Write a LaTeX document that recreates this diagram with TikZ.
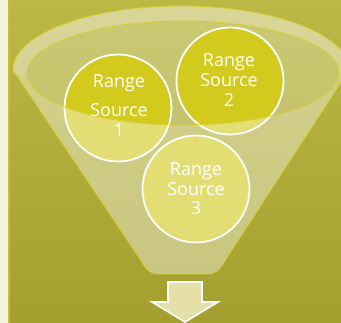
\documentclass[tikz,border=0pt]{standalone}
\usepackage{fontspec}
\newfontfamily\lab{Open Sans}
\definecolor{bgtop}{HTML}{BCB846}
\definecolor{bgbot}{HTML}{A4A030}
\definecolor{strip}{HTML}{F4F2DA}
\definecolor{stripline}{HTML}{C6BE2A}
\definecolor{cfill}{HTML}{D3CA1E}
\definecolor{edge}{HTML}{D6CE2E}
\definecolor{arrowfill}{HTML}{E4E0A8}
\tikzset{
  src/.style={circle, draw=white, line width=1.8pt, fill=cfill, minimum size=107pt, inner sep=0pt},
  lbl/.style={text=white, font=\lab\fontsize{18}{21}\selectfont, anchor=base, inner sep=0pt},
  rimline/.style={draw=edge, line width=0.8pt}
}
\begin{document}
\begin{tikzpicture}[x=1pt,y=-1pt]
\useasboundingbox (0,0) rectangle (341,323);
\clip (0,0) rectangle (341,323);
% background
\shade[top color=bgtop, bottom color=bgbot] (0,0) rectangle (341,323);
\fill[strip] (0,0) rectangle (7.5,323);
\fill[stripline] (7.5,0) rectangle (10,323);
% inner ellipse interior
\fill[white, opacity=0.25] (183,73) ellipse[x radius=156, y radius=52];
% circles
\node[src] (c1) at (118,108) {};
\node[src] (c2) at (230,81) {};
\node[src] (c3) at (196,189) {};
% funnel overlay (outside inner ellipse)
\fill[white, opacity=0.38, even odd rule]
  (13,70) arc[start angle=180, end angle=360, x radius=168, y radius=64]
  -- (226,259) .. controls (221,268) and (217,274) .. (207,274)
  -- (159,274) .. controls (149,274) and (145,268) .. (140,259) -- cycle
  (183,73) ellipse[x radius=156, y radius=52];
% lighter rim band
\begin{scope}
  \clip (0,0) rectangle (341,76);
  \fill[white, opacity=0.1, even odd rule]
    (181,70) ellipse[x radius=168, y radius=64]
    (183,73) ellipse[x radius=156, y radius=52];
\end{scope}
% funnel edges
\draw[rimline]
  (13,70) arc[start angle=180, end angle=360, x radius=168, y radius=64]
  -- (226,259) .. controls (221,268) and (217,274) .. (207,274)
  -- (159,274) .. controls (149,274) and (145,268) .. (140,259) -- cycle;
\draw[rimline] (183,73) ellipse[x radius=156, y radius=52];
% labels
\node[lbl] (l1a) at (119,88) {Range};
\node[lbl] (l1b) at (119,117) {Source};
\node[lbl] (l1c) at (119,137) {1};
\node[lbl] (l2a) at (229,67) {Range};
\node[lbl] (l2b) at (229,87) {Source};
\node[lbl] (l2c) at (229,107) {2};
\node[lbl] (l3a) at (196,176) {Range};
\node[lbl] (l3b) at (196,196) {Source};
\node[lbl] (l3c) at (196,215) {3};
% down arrow
\draw[draw=white, line width=1.6pt, fill=arrowfill, line join=miter]
  (168,282) -- (202,282) -- (202,302) -- (218,302) -- (185,322) -- (152,302) -- (168,302) -- cycle;
\end{tikzpicture}
\end{document}
